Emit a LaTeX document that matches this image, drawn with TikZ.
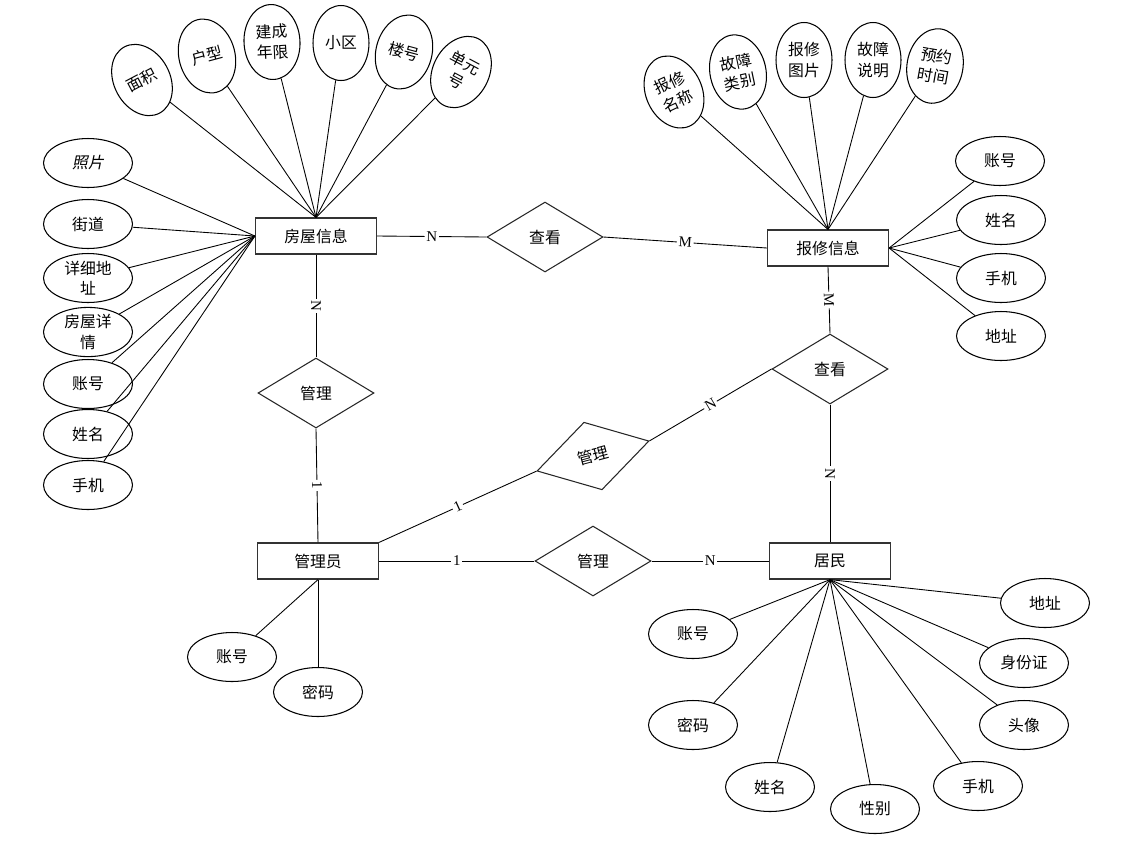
\documentclass[tikz,border=0pt]{standalone}
\usepackage{fontspec}
\setmainfont{Liberation Serif}
\newfontfamily\cjk{Noto Sans CJK SC}
\newfontfamily\cjkslant[FakeSlant=0.2]{Noto Sans CJK SC}
\usetikzlibrary{shapes.geometric}

\begin{document}
\begin{tikzpicture}[x=0.02cm,y=-0.02cm]
					\tikzstyle{entity} = [rectangle,draw=black!80,line width=0.7pt,minimum width=2.42cm,minimum height=0.72cm,font=\cjk\fontsize{9}{11}\selectfont]
					\tikzstyle{relation} = [diamond,draw=black!85,line width=0.6pt,minimum width=2.32cm,minimum height=1.4cm,inner sep=0pt,font=\cjk\fontsize{9}{11}\selectfont]
					\tikzstyle{attr} = [ellipse,draw=black,line width=0.6pt,minimum width=1.78cm,minimum height=0.98cm,inner sep=0pt,align=center,font=\cjk\fontsize{9}{11.5}\selectfont]
					\tikzstyle{attrv} = [attr,minimum width=1.12cm,minimum height=1.5cm]
					\tikzstyle{edge} = [-,line width=0.5pt]
					\tikzstyle{card} = [fill=white,inner sep=1pt,sloped,font=\fontsize{8.5}{9}\selectfont]
					\useasboundingbox (0,0) rectangle (1140,850);
					\node[entity] (n1) at (316,236) {房屋信息};
					\node[entity] (n2) at (828,248) {报修信息};
					\node[entity] (n3) at (318,561) {管理员};
					\node[entity] (n4) at (830,561) {居民};
					\node[relation] (r1) at (545,237) {查看};
					\node[relation] (r2) at (316,393) {管理};
					\node[relation] (r3) at (830,369) {查看};
					\node[relation,rotate=15] (r4) at (593,456) {管理};
					\node[relation] (r5) at (593,561) {管理};
					\node[attrv,rotate=28] (a1) at (142,80) {面积};
					\node[attrv,rotate=15] (a2) at (207,56) {户型};
					\node[attrv,rotate=3] (a3) at (272,42) {建成\\年限};
					\node[attrv] (a4) at (341,43) {小区};
					\node[attrv,rotate=-15] (a5) at (404,52) {楼号};
					\node[attrv,rotate=-28] (a6) at (461,72) {单元\\号};
					\node[attr] (a7) at (88,163) {\cjkslant 照片};
					\node[attr] (a8) at (88,224) {街道};
					\node[attr] (a9) at (88,278) {详细地\\址};
					\node[attr] (a10) at (88,332) {房屋详\\情};
					\node[attr] (a11) at (88,384) {账号};
					\node[attr] (a12) at (88,434) {姓名};
					\node[attr] (a13) at (88,485) {手机};
					\node[attrv,rotate=25] (b1) at (674,92) {报修\\名称};
					\node[attrv,rotate=12] (b2) at (738,72) {故障\\类别};
					\node[attrv] (b3) at (804,60) {报修\\图片};
					\node[attrv] (b4) at (873,60) {故障\\说明};
					\node[attrv,rotate=-10] (b5) at (935,66) {预约\\时间};
					\node[attr] (b6) at (1000,161) {账号};
					\node[attr] (b7) at (1001,220) {姓名};
					\node[attr] (b8) at (1001,278) {手机};
					\node[attr] (b9) at (1001,336) {地址};
					\node[attr] (c1) at (232,657) {账号};
					\node[attr] (c2) at (318,692) {密码};
					\node[attr] (d1) at (693,634) {账号};
					\node[attr] (d2) at (693,725) {密码};
					\node[attr] (d3) at (770,787) {姓名};
					\node[attr] (d4) at (875,809) {性别};
					\node[attr] (d5) at (978,786) {手机};
					\node[attr] (d6) at (1024,725) {头像};
					\node[attr] (d7) at (1024,663) {身份证};
					\node[attr] (d8) at (1045,603) {地址};
					\draw[edge] (n1.east)--node[card]{N}(r1.west);
					\draw[edge] (r1.east)--node[card]{M}(n2.west);
					\draw[edge] (n1.south)--node[card]{N}(r2.north);
					\draw[edge] (r2.south)--node[card]{1}(n3.north);
					\draw[edge] (n2.south)--node[card]{M}(r3.north);
					\draw[edge] (r3.south)--node[card]{N}(n4.north);
					\draw[edge] (n3.east)--node[card]{1}(r5.west);
					\draw[edge] (r5.east)--node[card]{N}(n4.west);
					\draw[edge] (n3.north east)--node[card]{1}(r4.west);
					\draw[edge] (r4.east)--node[card]{N}(r3.west);
					\draw[edge] (a1)--(n1.north);
					\draw[edge] (a2)--(n1.north);
					\draw[edge] (a3)--(n1.north);
					\draw[edge] (a4)--(n1.north);
					\draw[edge] (a5)--(n1.north);
					\draw[edge] (a6)--(n1.north);
					\draw[edge] (a7)--(n1.west);
					\draw[edge] (a8)--(n1.west);
					\draw[edge] (a9)--(n1.west);
					\draw[edge] (a10)--(n1.west);
					\draw[edge] (a11)--(n1.west);
					\draw[edge] (a12)--(n1.west);
					\draw[edge] (a13)--(n1.west);
					\draw[edge] (b1)--(n2.north);
					\draw[edge] (b2)--(n2.north);
					\draw[edge] (b3)--(n2.north);
					\draw[edge] (b4)--(n2.north);
					\draw[edge] (b5)--(n2.north);
					\draw[edge] (b6)--(n2.east);
					\draw[edge] (b7)--(n2.east);
					\draw[edge] (b8)--(n2.east);
					\draw[edge] (b9)--(n2.east);
					\draw[edge] (c1)--(n3.south);
					\draw[edge] (c2)--(n3.south);
					\draw[edge] (d1)--(n4.south);
					\draw[edge] (d2)--(n4.south);
					\draw[edge] (d3)--(n4.south);
					\draw[edge] (d4)--(n4.south);
					\draw[edge] (d5)--(n4.south);
					\draw[edge] (d6)--(n4.south);
					\draw[edge] (d7)--(n4.south);
					\draw[edge] (d8)--(n4.south);
					\end{tikzpicture}
\end{document}
